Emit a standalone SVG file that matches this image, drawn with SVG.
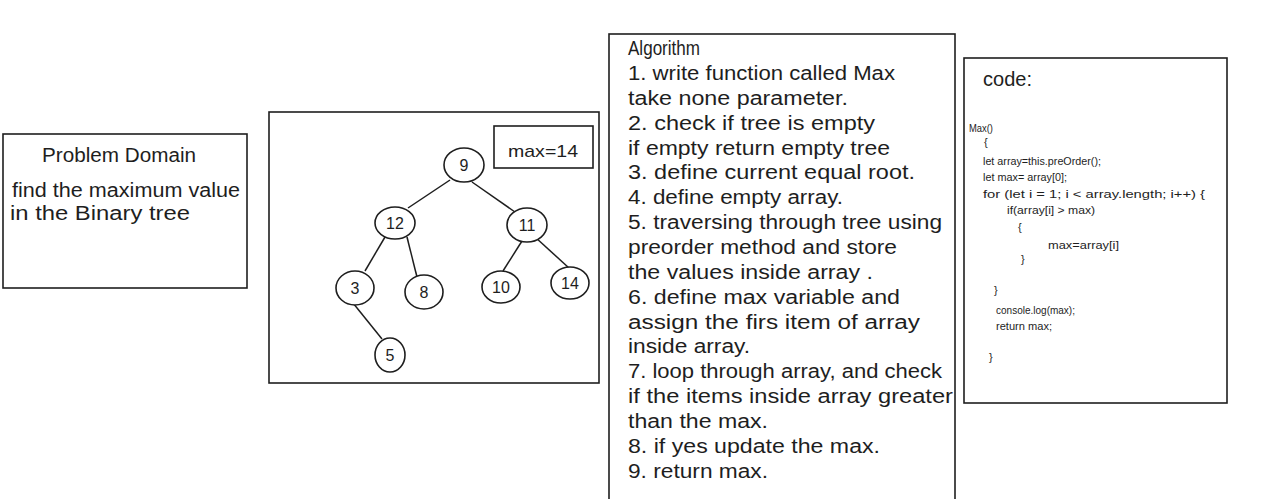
<svg xmlns="http://www.w3.org/2000/svg" width="1280" height="499" viewBox="0 0 1280 499">
<style>
.box{fill:#fff;stroke:#1e1e1e;stroke-width:1.6}
.t{font-family:"Liberation Sans",Arial,sans-serif;fill:#1e1e1e}
.h{font-size:20px}
.c{font-size:11px}
.n{font-size:16px;text-anchor:middle}
.edge{stroke:#1e1e1e;stroke-width:1.5;fill:none}
.node{fill:#fff;stroke:#1e1e1e;stroke-width:1.6}
</style>
<rect x="0" y="0" width="1280" height="499" fill="#fff"/>

<g id="problem-domain">
<rect class="box" x="3" y="134" width="244" height="154"/>
<text class="t h" x="42" y="162" textLength="154" lengthAdjust="spacingAndGlyphs">Problem Domain</text>
<text class="t h" x="12" y="197" textLength="228" lengthAdjust="spacingAndGlyphs">find the maximum value</text>
<text class="t h" x="10" y="220" textLength="180" lengthAdjust="spacingAndGlyphs">in the Binary tree</text>
</g>

<g id="tree-panel">
<rect class="box" x="269" y="112" width="330" height="271"/>
</g>
<g id="max-label">
<rect class="box" x="494" y="126" width="99" height="42"/>
<text class="t" x="508" y="157" font-size="17" textLength="70" lengthAdjust="spacingAndGlyphs">max=14</text>
</g>

<g id="connectors">
<line class="edge" x1="450" y1="180" x2="408" y2="208"/>
<line class="edge" x1="472" y1="182" x2="515" y2="212"/>
<line class="edge" x1="385" y1="237" x2="365" y2="271"/>
<line class="edge" x1="407" y1="237" x2="417" y2="277"/>
<line class="edge" x1="522" y1="241" x2="503" y2="271"/>
<line class="edge" x1="535" y1="237" x2="569" y2="268"/>
<line class="edge" x1="353" y1="303" x2="382" y2="339"/>
</g>

<g id="node-9"><ellipse class="node" cx="464" cy="165" rx="20" ry="17"/><text class="t n" x="464" y="171">9</text></g>
<g id="node-12"><ellipse class="node" cx="395" cy="223" rx="20" ry="16"/><text class="t n" x="395" y="229">12</text></g>
<g id="node-11"><ellipse class="node" cx="527" cy="225" rx="20" ry="17"/><text class="t n" x="527" y="231">11</text></g>
<g id="node-3"><ellipse class="node" cx="355" cy="288" rx="19" ry="17"/><text class="t n" x="355" y="294">3</text></g>
<g id="node-8"><ellipse class="node" cx="424" cy="292" rx="19" ry="17"/><text class="t n" x="424" y="298">8</text></g>
<g id="node-10"><ellipse class="node" cx="501" cy="287" rx="19" ry="16"/><text class="t n" x="501" y="293">10</text></g>
<g id="node-14"><ellipse class="node" cx="570" cy="283" rx="19" ry="16"/><text class="t n" x="570" y="289">14</text></g>
<g id="node-5"><ellipse class="node" cx="390" cy="355" rx="15" ry="17"/><text class="t n" x="390" y="361">5</text></g>

<g id="algorithm">
<rect class="box" x="609" y="34" width="346" height="480"/>
<text class="t h" x="628" y="55" textLength="72" lengthAdjust="spacingAndGlyphs">Algorithm</text>
<text class="t h" x="628" y="80" textLength="267" lengthAdjust="spacingAndGlyphs">1. write function called Max</text>
<text class="t h" x="628" y="105" textLength="220" lengthAdjust="spacingAndGlyphs">take none parameter.</text>
<text class="t h" x="628" y="130" textLength="247" lengthAdjust="spacingAndGlyphs">2. check if tree is empty</text>
<text class="t h" x="628" y="155" textLength="262" lengthAdjust="spacingAndGlyphs">if empty return empty tree</text>
<text class="t h" x="628" y="179" textLength="287" lengthAdjust="spacingAndGlyphs">3. define current equal root.</text>
<text class="t h" x="628" y="204" textLength="215" lengthAdjust="spacingAndGlyphs">4. define empty array.</text>
<text class="t h" x="628" y="229" textLength="314" lengthAdjust="spacingAndGlyphs">5. traversing through tree using</text>
<text class="t h" x="628" y="254" textLength="269" lengthAdjust="spacingAndGlyphs">preorder method and store</text>
<text class="t h" x="628" y="279" textLength="245" lengthAdjust="spacingAndGlyphs">the values inside array .</text>
<text class="t h" x="628" y="304" textLength="272" lengthAdjust="spacingAndGlyphs">6. define max variable  and</text>
<text class="t h" x="628" y="329" textLength="292" lengthAdjust="spacingAndGlyphs">assign the firs item of array</text>
<text class="t h" x="628" y="353" textLength="122" lengthAdjust="spacingAndGlyphs">inside array.</text>
<text class="t h" x="628" y="378" textLength="314" lengthAdjust="spacingAndGlyphs">7. loop through array, and check</text>
<text class="t h" x="628" y="403" textLength="325" lengthAdjust="spacingAndGlyphs">if the items inside array greater</text>
<text class="t h" x="628" y="428" textLength="140" lengthAdjust="spacingAndGlyphs">than the max.</text>
<text class="t h" x="628" y="453" textLength="252" lengthAdjust="spacingAndGlyphs">8. if yes update the max.</text>
<text class="t h" x="628" y="478" textLength="140" lengthAdjust="spacingAndGlyphs">9. return max.</text>
</g>

<g id="code">
<rect class="box" x="964" y="58" width="263" height="345"/>
<text class="t" x="983" y="86" font-size="20" textLength="49" lengthAdjust="spacingAndGlyphs">code:</text>
<text class="t c" x="969" y="132" textLength="24" lengthAdjust="spacingAndGlyphs">Max()</text>
<text class="t c" x="984" y="146">{</text>
<text class="t c" x="983" y="165" textLength="118" lengthAdjust="spacingAndGlyphs">let array=this.preOrder();</text>
<text class="t c" x="983" y="181" textLength="84" lengthAdjust="spacingAndGlyphs">let max= array[0];</text>
<text class="t c" x="983" y="198" textLength="222" lengthAdjust="spacingAndGlyphs">for (let i = 1; i &lt; array.length; i++) {</text>
<text class="t c" x="1007" y="214" textLength="88" lengthAdjust="spacingAndGlyphs">if(array[i] &gt; max)</text>
<text class="t c" x="1018" y="231">{</text>
<text class="t c" x="1048" y="249" textLength="71" lengthAdjust="spacingAndGlyphs">max=array[i]</text>
<text class="t c" x="1021" y="263">}</text>
<text class="t c" x="994" y="294">}</text>
<text class="t c" x="996" y="314" textLength="79" lengthAdjust="spacingAndGlyphs">console.log(max);</text>
<text class="t c" x="996" y="330" textLength="56" lengthAdjust="spacingAndGlyphs">return max;</text>
<text class="t c" x="989" y="361">}</text>
</g>
</svg>
